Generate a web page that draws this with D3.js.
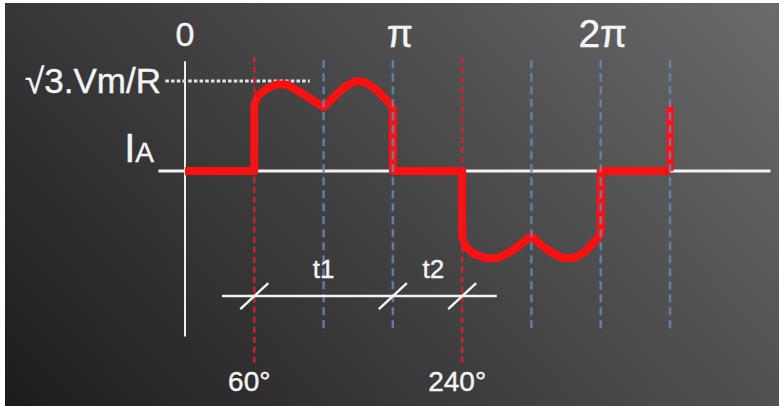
<!DOCTYPE html>
<html>
  <head>
    <title>Line current IA</title>
    <script src="https://cdn.jsdelivr.net/npm/d3@7/dist/d3.min.js"></script>
    <style>
      body { margin: 0; background: #fff; }
      text { font-family: "Liberation Sans", Arial, sans-serif; fill: #f4f4f4; stroke: #f4f4f4; stroke-width: 0.4; }
    </style>
  </head>
  <body>
    <svg id="container" width="779" height="406"></svg>
  </body>
  <script>
    // angle ticks along the top (degrees)
    const topTickAngles = [0, 180, 360];
    const topTickLabels = ["0", "π", "2π"];

    // dashed guides
    const blueGuideAngles = [120, 180, 300, 360, 420];
    const redGuideAngles = [60, 240];
    const redGuideLabels = ["60°", "240°"];

    // waveform: angle (deg) and current (per unit of √3.Vm/R)
    const waveAngles = [0, 60, 60, 63, 70, 79, 88, 98, 120,
      129, 139, 148, 157, 166, 176, 180, 180,
      240, 240, 243, 250, 261, 271, 283, 300,
      309, 318, 327, 338, 347, 358, 360, 360, 420];
    const waveValues = [0, 0, 0.74, 0.83, 0.91, 0.96, 0.96, 0.89, 0.71,
      0.82, 0.94, 1.0, 0.98, 0.9, 0.77, 0.7, 0,
      0, -0.73, -0.84, -0.92, -0.97, -0.97, -0.89, -0.72,
      -0.83, -0.91, -0.97, -0.96, -0.89, -0.74, -0.69, 0, 0];
    // last rising edge at 420 deg
    const tailAngles = [420, 420];
    const tailValues = [0, 0.73];

    // interval markers t1, t2
    const markerAngles = [60, 180, 240];
    const intervalNames = ["t1", "t2"];
    const intervalLabelAngles = [120, 215];

    const W = 779, H = 406;
    const svg = d3.select("#container");

    const x = d3.scaleLinear().domain([0, 420]).range([185, 670]);
    const y = d3.scaleLinear().domain([-1, 1]).range([261, 81]);

    // background
    const defs = svg.append("defs");
    const grad = defs.append("linearGradient")
      .attr("id", "bg")
      .attr("gradientUnits", "userSpaceOnUse")
      .attr("x1", 0).attr("y1", 406).attr("x2", 616).attr("y2", -173);
    grad.append("stop").attr("offset", 0).attr("stop-color", "#1c1c1c");
    grad.append("stop").attr("offset", 1).attr("stop-color", "#6b6b6b");
    svg.append("rect")
      .attr("x", 5).attr("y", 3)
      .attr("width", W - 5).attr("height", H - 3)
      .attr("fill", "url(#bg)");

    // axes
    svg.append("line")
      .attr("x1", x(-23)).attr("x2", x(507))
      .attr("y1", y(0)).attr("y2", y(0))
      .attr("stroke", "#f2f2f2").attr("stroke-width", 3);
    svg.append("line")
      .attr("x1", x(0)).attr("x2", x(0))
      .attr("y1", y(1.22)).attr("y2", y(-1.84))
      .attr("stroke", "#eeeeee").attr("stroke-width", 2);

    // dotted peak level
    svg.append("line")
      .attr("x1", x(-17)).attr("x2", x(108))
      .attr("y1", y(1)).attr("y2", y(1))
      .attr("stroke", "#e6e6e6").attr("stroke-width", 3)
      .attr("stroke-dasharray", "3.5,2.2");

    // waveform
    const line = d3.line()
      .x(d => x(d[0]))
      .y(d => y(d[1]));
    svg.append("path")
      .attr("d", line(d3.zip(waveAngles, waveValues)))
      .attr("fill", "none")
      .attr("stroke", "#ff1010")
      .attr("stroke-width", 8)
      .attr("stroke-linejoin", "round");
    svg.append("path")
      .attr("d", line(d3.zip(tailAngles, tailValues)))
      .attr("fill", "none")
      .attr("stroke", "#ff1010")
      .attr("stroke-width", 7);

    // guides on top
    svg.selectAll(".blue-guide")
      .data(blueGuideAngles)
      .join("line")
      .attr("class", "blue-guide")
      .attr("x1", d => x(d)).attr("x2", d => x(d))
      .attr("y1", y(1.23)).attr("y2", y(-1.8))
      .attr("stroke", "#6587bb").attr("stroke-width", 2.5)
      .attr("stroke-opacity", 0.85)
      .attr("stroke-dasharray", "8,5");

    svg.selectAll(".red-guide")
      .data(redGuideAngles)
      .join("line")
      .attr("class", "red-guide")
      .attr("x1", d => x(d)).attr("x2", d => x(d))
      .attr("y1", y(1.27)).attr("y2", y(-2.13))
      .attr("stroke", "#d8202c").attr("stroke-width", 2.5)
      .attr("stroke-opacity", 0.9)
      .attr("stroke-dasharray", "6,4");

    // measurement line with slashes
    svg.append("line")
      .attr("x1", x(32)).attr("x2", x(270))
      .attr("y1", y(-1.39)).attr("y2", y(-1.39))
      .attr("stroke", "#f2f2f2").attr("stroke-width", 2.5);
    svg.selectAll(".slash")
      .data(markerAngles)
      .join("line")
      .attr("class", "slash")
      .attr("x1", d => x(d) - 14).attr("x2", d => x(d) + 14)
      .attr("y1", y(-1.39) + 13).attr("y2", y(-1.39) - 13)
      .attr("stroke", "#f2f2f2").attr("stroke-width", 2.5);

    svg.selectAll(".interval-label")
      .data(intervalNames)
      .join("text")
      .attr("class", "interval-label")
      .attr("x", (d, i) => x(intervalLabelAngles[i]))
      .attr("y", y(-1.19))
      .attr("text-anchor", "middle")
      .attr("font-size", 26)
      .text(d => d);

    // labels
    svg.selectAll(".top-tick")
      .data(topTickLabels)
      .join("text")
      .attr("class", "top-tick")
      .attr("x", (d, i) => x(topTickAngles[i]) + [0, 7, 2][i])
      .attr("y", (d, i) => [46, 47, 47][i])
      .attr("text-anchor", "middle")
      .attr("font-size", (d, i) => [34, 38, 39][i])
      .text(d => d);

    svg.selectAll(".red-label")
      .data(redGuideLabels)
      .join("text")
      .attr("class", "red-label")
      .attr("x", (d, i) => x(redGuideAngles[i]) - 5)
      .attr("y", 391)
      .attr("text-anchor", "middle")
      .attr("font-size", 28)
      .text(d => d);

    svg.append("text")
      .attr("x", 161).attr("y", 93)
      .attr("text-anchor", "end")
      .attr("font-size", 35)
      .text("√3.Vm/R");

    const ia = svg.append("text")
      .attr("x", 154).attr("y", 162)
      .attr("text-anchor", "end");
    ia.append("tspan").attr("font-size", 40).text("I");
    ia.append("tspan").attr("font-size", 28).text("A");
  </script>
</html>
